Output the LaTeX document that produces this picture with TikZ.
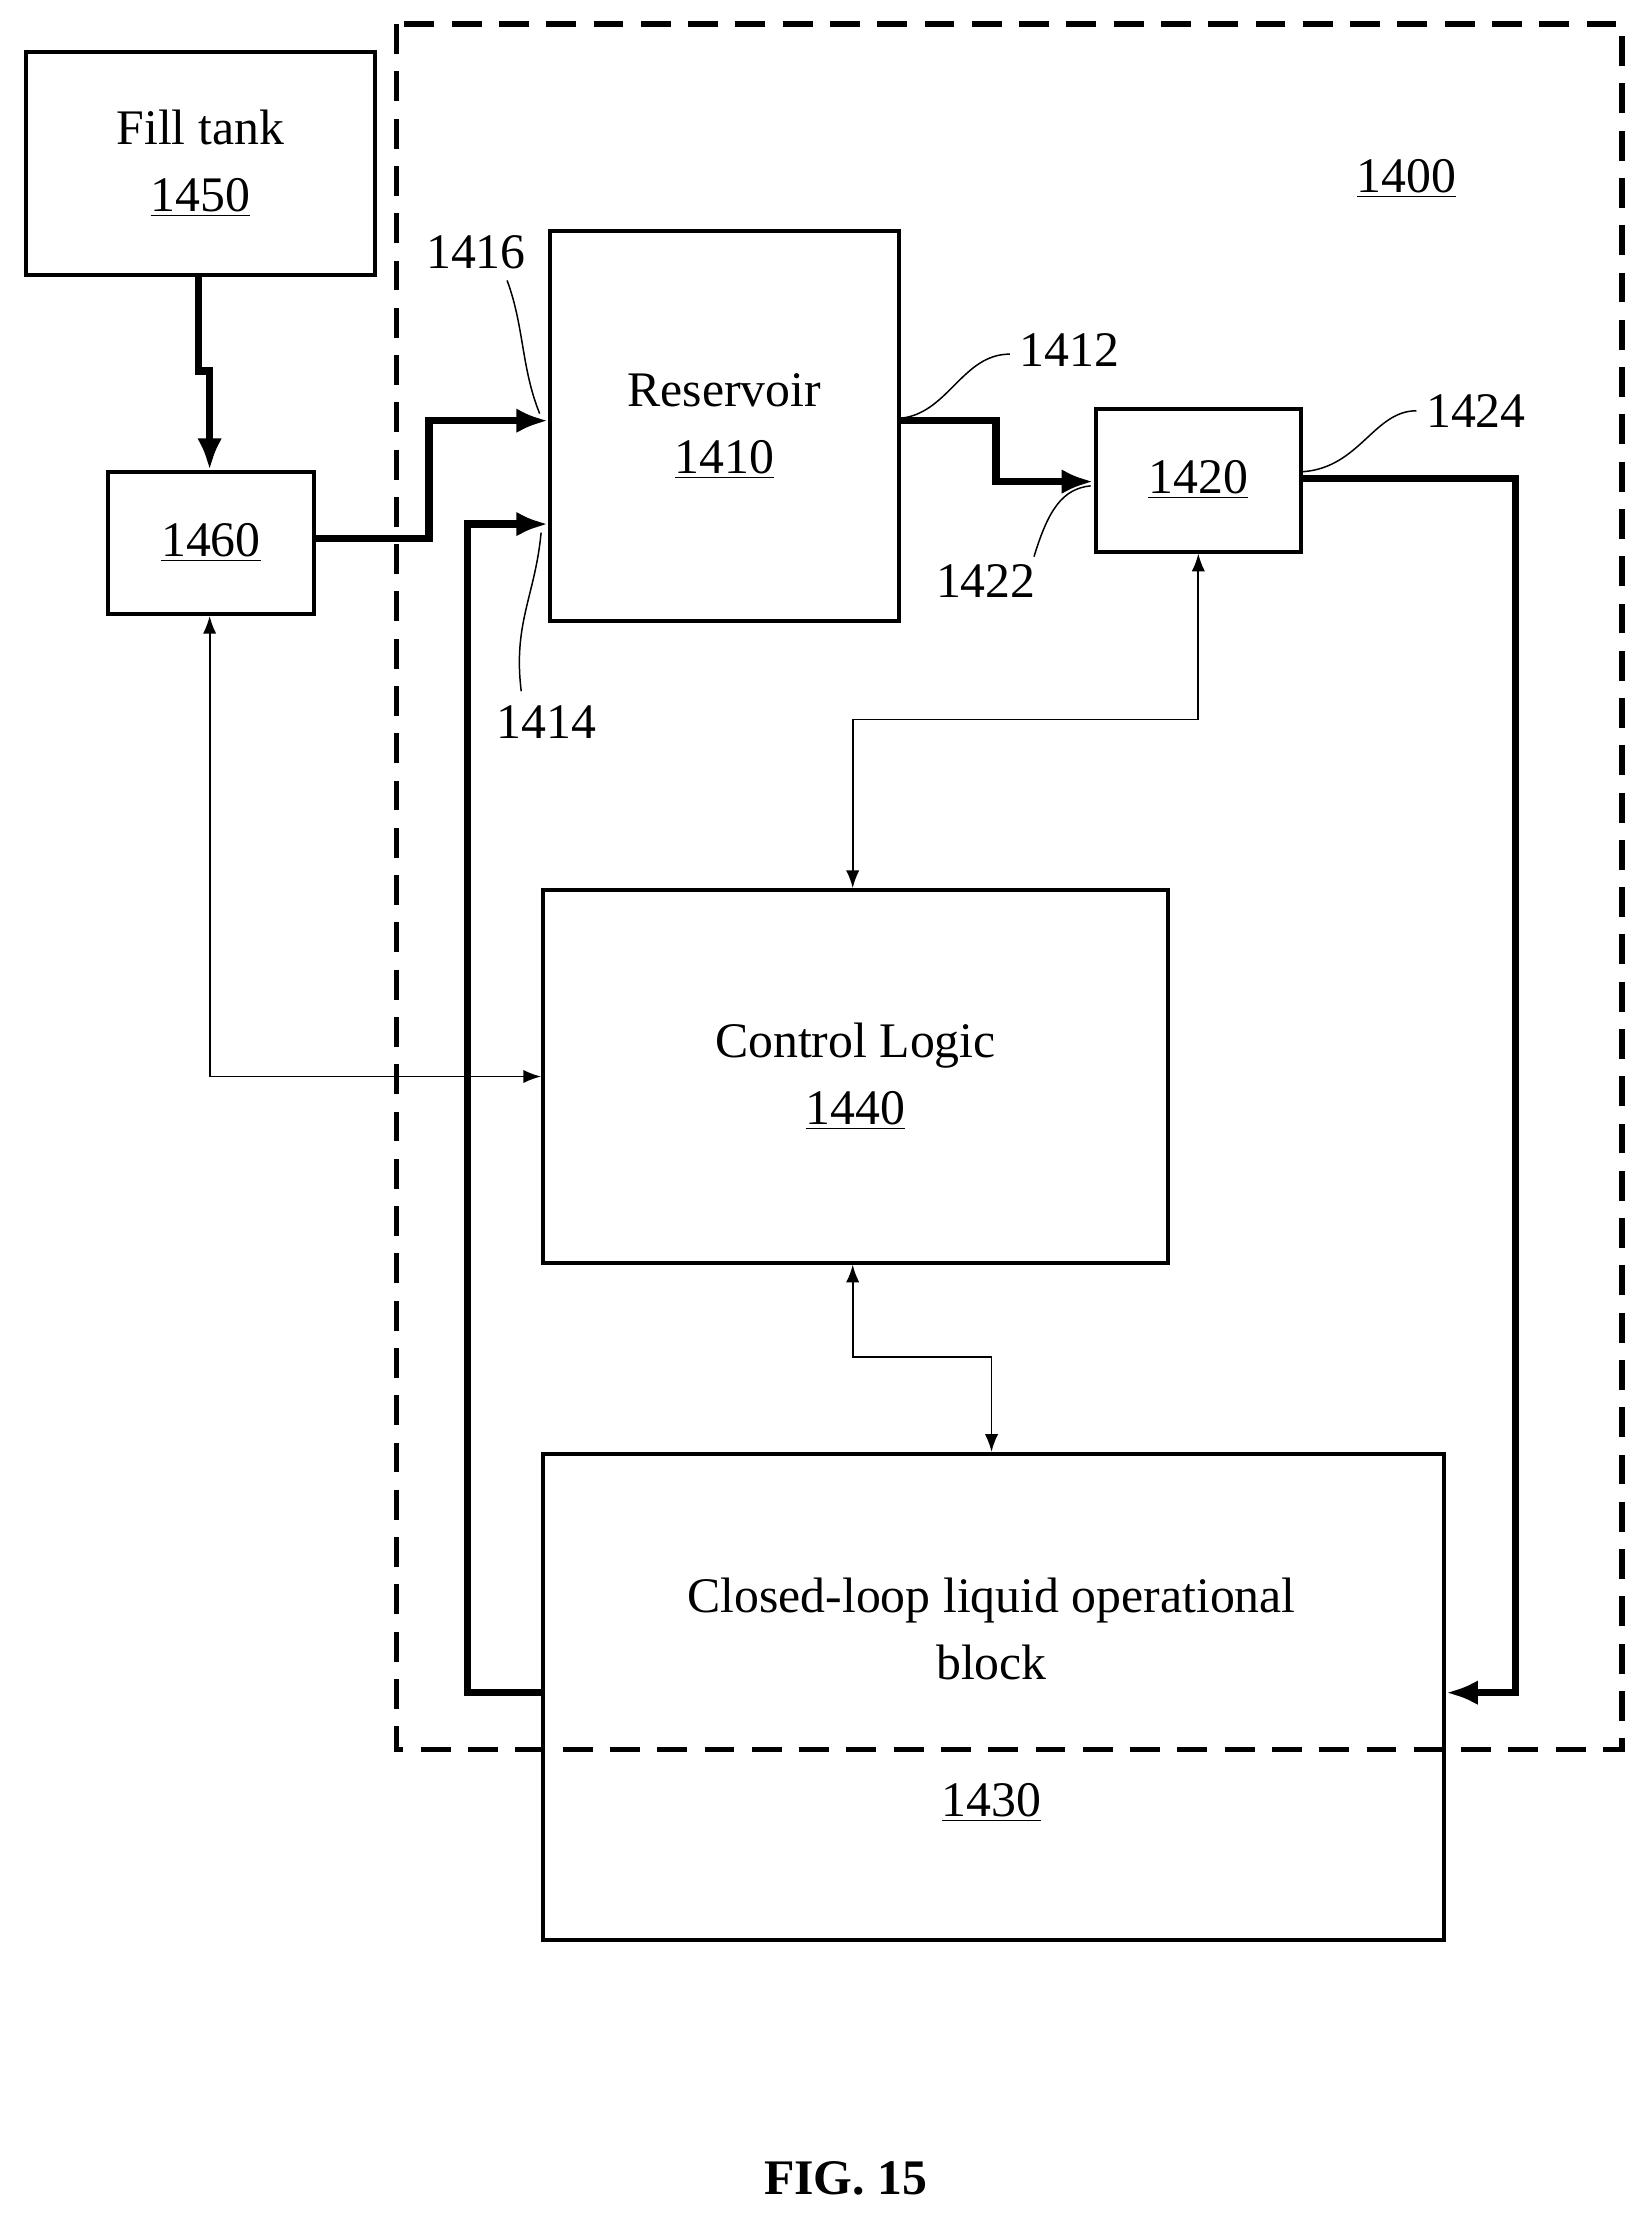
\documentclass[tikz,border=0pt]{standalone}
\usepackage{fontspec}
\setmainfont{Liberation Serif}
\usetikzlibrary{positioning,arrows.meta}
\tikzset{>=latex}
\begin{document}
\begin{tikzpicture}[x=0.02cm,y=-0.02cm,
  blk/.style={draw, line width=1.6pt, anchor=north west, inner sep=0pt, align=center,
              font=\fontsize{20}{27}\selectfont},
  flow/.style={line width=3pt, -{Latex[length=4.5mm,width=3.5mm]}},
  sig/.style={line width=0.7pt, {Latex[length=2.5mm]}-{Latex[length=2.5mm]}},
  lead/.style={line width=0.6pt},
  lbl/.style={font=\fontsize{20}{24}\selectfont}
]
\useasboundingbox (0,0) rectangle (1162,1568);

% system boundary
\draw[line width=2.2pt, dash pattern=on 12pt off 7pt] (280,17) rectangle (1145,1235);
\node[lbl] (sys) at (993,126) {\underline{1400}};

% blocks
\node[blk, minimum width=246*0.02cm, minimum height=158*0.02cm] (fill) at (17,35) {Fill tank\\\underline{1450}};
\node[blk, minimum width=145*0.02cm, minimum height=100*0.02cm] (valve) at (75,332) {\underline{1460}};
\node[blk, minimum width=246*0.02cm, minimum height=275*0.02cm] (res) at (387,162) {Reservoir\\\underline{1410}};
\node[blk, minimum width=145*0.02cm, minimum height=101*0.02cm] (pump) at (772,287) {\underline{1420}};
\node[blk, minimum width=441*0.02cm, minimum height=263*0.02cm] (ctrl) at (382,627) {Control Logic\\\underline{1440}};
\node[blk, minimum width=636*0.02cm, minimum height=343*0.02cm] (loop) at (382,1025) {};
\node[lbl, align=center, font=\fontsize{20}{27}\selectfont] (looptxt) at (700,1150) {Closed-loop liquid operational\\block};
\node[lbl] (loopnum) at (700,1273) {\underline{1430}};

% liquid flow
\draw[flow] (fill.south -| 140,0) -- (140,262) -- (148,262) -- (valve.north -| 148,0);
\draw[flow] (valve.east |- 0,380) -- (303,380) -- (303,297) -- (res.west |- 0,297);
\draw[flow] (loop.west |- 0,1195) -- (330,1195) -- (330,370) -- (res.west |- 0,370);
\draw[flow] (res.east |- 0,297) -- (703,297) -- (703,340) -- (pump.west |- 0,340);
\draw[flow] (pump.east |- 0,338) -- (1070,338) -- (1070,1195) -- (loop.east |- 0,1195);

% control signals
\draw[sig] (pump.south -| 846,0) -- (846,508) -- (602,508) -- (ctrl.north -| 602,0);
\draw[sig] (valve.south -| 148,0) -- (148,760) -- (ctrl.west |- 0,760);
\draw[sig] (ctrl.south -| 602,0) -- (602,958) -- (700,958) -- (loop.north -| 700,0);

% reference labels
\node[lbl] (l1416) at (336,178) {1416};
\draw[lead] (358,198) .. controls (370,230) and (368,260) .. (381,292);
\node[lbl] (l1414) at (386,510) {1414};
\draw[lead] (368,488) .. controls (362,440) and (378,420) .. (382,376);
\node[lbl] (l1412) at (755,247) {1412};
\draw[lead] (713,250) .. controls (680,250) and (670,290) .. (638,295);
\node[lbl] (l1422) at (696,410) {1422};
\draw[lead] (730,393) .. controls (740,360) and (750,345) .. (770,343);
\node[lbl] (l1424) at (1042,290) {1424};
\draw[lead] (1000,290) .. controls (970,290) and (960,330) .. (920,333);

\node[font=\fontsize{20}{24}\selectfont\bfseries] (fig) at (597,1538) {FIG. 15};
\end{tikzpicture}
\end{document}
